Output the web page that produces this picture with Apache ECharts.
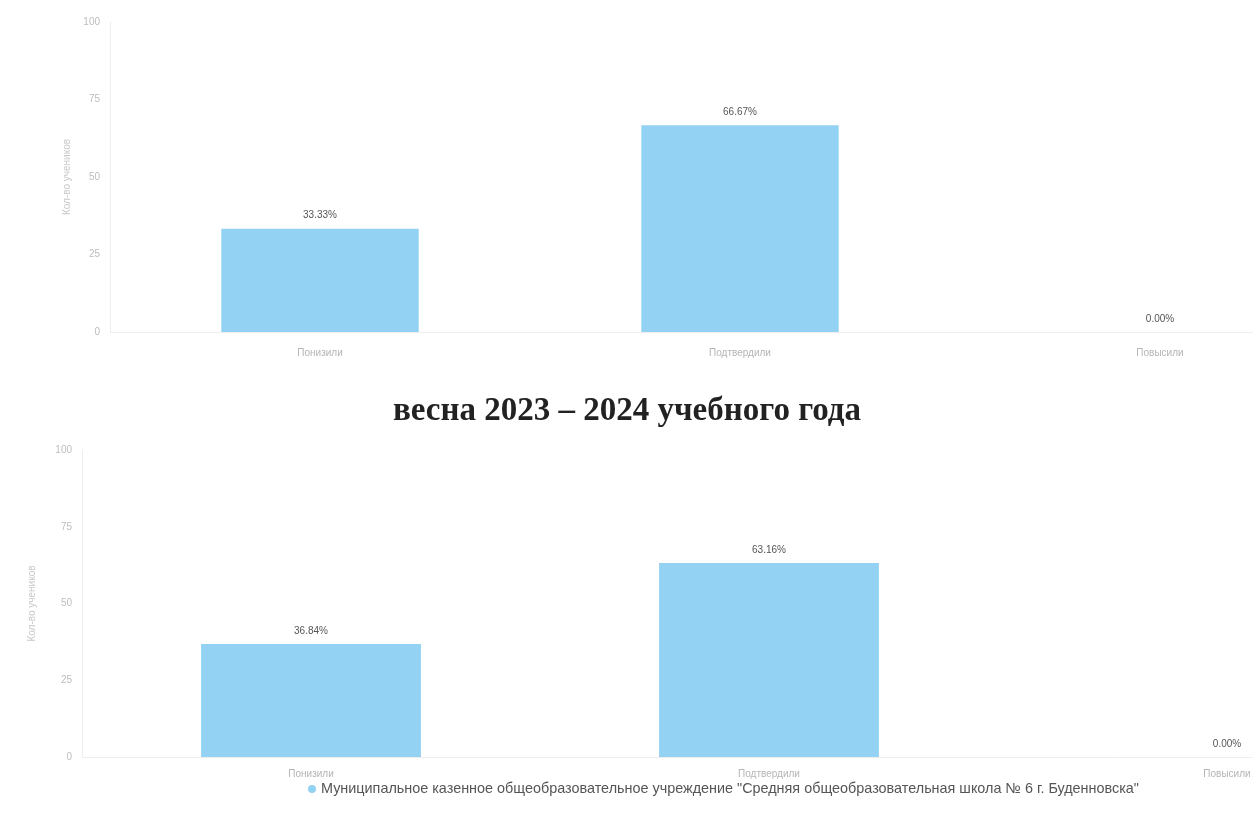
<!DOCTYPE html>
<html>
<head>
<meta charset="utf-8">
<script src="https://cdn.jsdelivr.net/npm/echarts@6/dist/echarts.min.js"></script>
<style>html,body{margin:0;padding:0;background:#fff;overflow:hidden}#c{width:1470px;height:823px}</style>
</head>
<body>
<div id="c"></div>
<script>
var categories = ['Понизили', 'Подтвердили', 'Повысили'];
var autumnValues = [33.33, 66.67, 0.00];
var springValues = [36.84, 63.16, 0.00];
var yTicks = [0, 25, 50, 75, 100];
var seriesName = 'Муниципальное казенное общеобразовательное учреждение "Средняя общеобразовательная школа № 6 г. Буденновска"';
var yName = 'Кол-во учеников';
var middleTitle = 'весна 2023 – 2024 учебного года';

var chart = echarts.init(document.getElementById('c'));
var barColor = '#93d2f3';
function xAxis(idx, margin) {
  return {
    type: 'category', gridIndex: idx, data: categories,
    axisLine: {lineStyle: {color: '#eeeeee'}},
    axisTick: {show: false},
    axisLabel: {color: '#b5b5b5', fontSize: 10, margin: margin, fontFamily: 'Liberation Sans'}
  };
}
function yAxis(idx, gap) {
  return {
    type: 'value', gridIndex: idx, min: 0, max: 100, interval: 25,
    name: yName, nameLocation: 'middle', nameGap: gap, nameRotate: 90,
    nameTextStyle: {color: '#c8c8c8', fontSize: 10, fontFamily: 'Liberation Sans'},
    axisLine: {show: true, lineStyle: {color: '#eeeeee'}},
    axisTick: {show: false},
    splitLine: {show: false},
    axisLabel: {color: '#bdbdbd', fontSize: 10, margin: 10, fontFamily: 'Liberation Sans',
      formatter: function (v) { return yTicks.indexOf(v) >= 0 ? String(v) : ''; }}
  };
}
function bar(idx, data, width) {
  return {
    name: seriesName, type: 'bar', xAxisIndex: idx, yAxisIndex: idx,
    data: data, barWidth: width,
    itemStyle: {color: barColor},
    label: {show: true, position: 'top', distance: 8, color: '#555', fontSize: 10,
      fontFamily: 'Liberation Sans',
      formatter: function (p) { return p.value.toFixed(2) + '%'; }}
  };
}
chart.setOption({
  animation: false,
  title: {text: middleTitle, left: 622, top: 390, textAlign: 'center',
    textStyle: {fontFamily: 'Liberation Serif', fontWeight: 'bold', fontSize: 33, color: '#222'}},
  legend: {bottom: 22, left: 303, icon: 'circle', itemWidth: 8, itemHeight: 8,
    textStyle: {color: '#555', fontSize: 14.4, fontFamily: 'Liberation Sans'},
    data: [seriesName]},
  grid: [
    {left: 110, top: 22, height: 310, width: 1260},
    {left: 82, top: 450, height: 307, width: 1374}
  ],
  xAxis: [xAxis(0, 16), xAxis(1, 12)],
  yAxis: [yAxis(0, 38), yAxis(1, 45)],
  series: [bar(0, autumnValues, '47%'), bar(1, springValues, '48%')]
});
</script>
</body>
</html>
